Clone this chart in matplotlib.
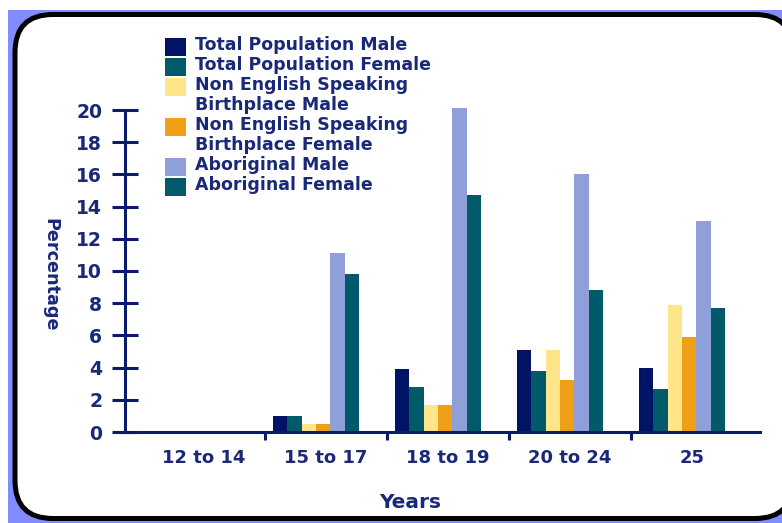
import matplotlib
matplotlib.use("Agg")
import matplotlib.pyplot as plt
from matplotlib.patches import FancyBboxPatch, Rectangle
import numpy as np

# ---- data -------------------------------------------------------------
categories = ["12 to 14", "15 to 17", "18 to 19", "20 to 24", "25"]
series_names = [
    "Total Population Male",
    "Total Population Female",
    "Non English Speaking\nBirthplace Male",
    "Non English Speaking\nBirthplace Female",
    "Aboriginal Male",
    "Aboriginal Female",
]
total_male = [0, 1.0, 3.9, 5.1, 4.0]
total_female = [0, 1.0, 2.8, 3.8, 2.7]
nesb_male = [0, 0.5, 1.7, 5.1, 7.9]
nesb_female = [0, 0.5, 1.7, 3.2, 5.9]
aboriginal_male = [0, 11.1, 20.1, 16.0, 13.1]
aboriginal_female = [0, 9.8, 14.7, 8.8, 7.7]
series_values = [total_male, total_female, nesb_male, nesb_female,
                 aboriginal_male, aboriginal_female]
series_colors = ["#001466", "#005a69", "#ffe58a", "#f0a016", "#8f9fd9", "#005a69"]
y_ticks = [0, 2, 4, 6, 8, 10, 12, 14, 16, 18, 20]

TEXT = "#1a2878"
AXIS = "#0a1a6e"
W, H = 782, 523
DPI = 100

fig = plt.figure(figsize=(W / DPI, H / DPI), dpi=DPI)
fig.patch.set_facecolor("white")
px = fig.dpi_scale_trans  # inches; 1 in = 100 px


def py(y):
    """top-down pixel row -> inches from bottom"""
    return (H - y) / DPI


# backdrop and rounded panel (the panel runs just past the right edge)
fig.patches.append(Rectangle((8 / DPI, 0), (W - 8) / DPI, py(10), transform=px,
                             facecolor="#808cff", edgecolor="none", zorder=0))
fig.patches.append(FancyBboxPatch((15 / DPI, py(518.5)), (793 - 15) / DPI,
                                  (518.5 - 14.5) / DPI,
                                  boxstyle="round,pad=0,rounding_size=0.38",
                                  transform=px, facecolor="white",
                                  edgecolor="black", linewidth=3.6, zorder=1,
                                  clip_on=False))

# ---- axes -------------------------------------------------------------
x_left, x_right = -0.648, 4.557
ax = fig.add_axes([125 / W, (H - 432) / H, 635 / W, 21 * 16.1 / H])
ax.set_zorder(2)
ax.set_facecolor("none")
ax.set_xlim(x_left, x_right)
ax.set_ylim(0, 21)

x = np.arange(len(categories))
bar_w = 0.1175
group_shift = -0.082
n = len(series_values)
for k, (vals, col) in enumerate(zip(series_values, series_colors)):
    offs = group_shift + (k - (n - 1) / 2) * bar_w
    ax.bar(x + offs, vals, width=bar_w, color=col, linewidth=0, zorder=2)

for s in ["top", "right"]:
    ax.spines[s].set_visible(False)
for s in ["left", "bottom"]:
    ax.spines[s].set_color(AXIS)
    ax.spines[s].set_linewidth(2.2)
    ax.spines[s].set_zorder(3)
ax.spines["left"].set_bounds(0, 20)

ax.set_yticks(y_ticks)
ax.set_yticklabels([str(v) for v in y_ticks])
ax.tick_params(axis="y", direction="inout", length=18.7, width=2.2, color=AXIS,
               pad=7.2, labelsize=13.5, labelcolor=TEXT)
for lab in ax.get_yticklabels():
    lab.set_fontweight("bold")

ax.set_xticks(x[:-1] + 0.5)
ax.set_xticklabels([])
ax.tick_params(axis="x", which="major", direction="out", length=5.8, width=2.2,
               color=AXIS)
ax.set_xticks(x, categories, minor=True)
ax.tick_params(axis="x", which="minor", length=0, pad=12, labelsize=13,
               labelcolor=TEXT)
for lab in ax.get_xticklabels(minor=True):
    lab.set_fontweight("bold")

# axis titles
fig.text(50 / W, (H - 275) / H, "Percentage", rotation=270, ha="center",
         va="center", fontsize=12.7, fontweight="bold", color=TEXT, zorder=3)
fig.text(410 / W, (H - 502) / H, "Years", ha="center", va="center",
         fontsize=14.5, fontweight="bold", color=TEXT, zorder=3)

# ---- legend -------------------------------------------------------------
row = 0
for name, col in zip(series_names, series_colors):
    yc = 45 + 20 * row
    fig.patches.append(Rectangle((165 / DPI, py(yc + 11)), 21 / DPI, 18 / DPI,
                                 transform=px, facecolor=col, edgecolor="none",
                                 zorder=3))
    for j, line in enumerate(name.split("\n")):
        fig.text(195 / W, (H - (yc + 20 * j)) / H, line, ha="left", va="center",
                 fontsize=12.5, fontweight="bold", color=TEXT, zorder=3)
    row += len(name.split("\n"))

fig.savefig("out.png", dpi=DPI)
